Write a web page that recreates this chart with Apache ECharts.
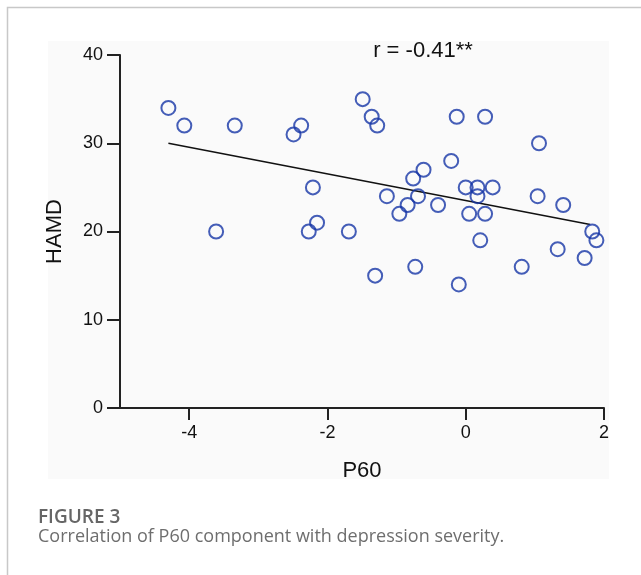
<!DOCTYPE html>
<html>
<head>
<meta charset="utf-8">
<script src="https://cdn.jsdelivr.net/npm/echarts@6/dist/echarts.min.js"></script>
<style>
html,body{margin:0;padding:0;background:#fff;}
#c{width:641px;height:575px;}
</style>
</head>
<body>
<div id="c"></div>
<script>
// P60 component (x) vs HAMD score (y)
const p60Values = [-4.30,-4.07,-3.34,-2.49,-2.38,-2.21,-3.61,-2.27,-2.15,-1.49,-1.36,-1.28,-0.13,0.28,1.06,-0.21,-0.61,-0.76,-1.14,-0.69,-0.84,-0.96,-0.40,0.00,0.17,0.17,0.39,0.05,0.28,1.04,1.41,1.83,1.89,0.21,1.33,1.72,-1.69,-1.31,-0.73,-0.10,0.81];
const hamdValues = [34,32,32,31,32,25,20,20,21,35,33,32,33,33,30,28,27,26,24,24,23,22,23,25,25,24,25,22,22,24,23,20,19,19,18,17,20,15,16,14,16];
const fitX = [-4.3, 1.8];
const fitY = [30.0, 20.8];
const xTicks = [-4, -2, 0, 2];
const yTicks = [0, 10, 20, 30, 40];
const corrLabel = 'r = -0.41**';
const figureLabel = 'FIGURE 3';
const captionText = 'Correlation of P60 component with depression severity.';

const points = p60Values.map((x, i) => [x, hamdValues[i]]);
const fitLine = fitX.map((x, i) => [x, fitY[i]]);

const chart = echarts.init(document.getElementById('c'), null, {renderer: 'canvas'});
const axisFont = 'Liberation Sans, Arial, sans-serif';
chart.setOption({
  animation: false,
  backgroundColor: '#ffffff',
  graphic: [
    {type: 'rect', z: -10, shape: {x: 7.5, y: 7.5, width: 700, height: 700},
     style: {fill: 'none', stroke: '#c8c8c8', lineWidth: 1.5}, silent: true},
    {type: 'rect', z: -9, shape: {x: 48, y: 41, width: 561, height: 438},
     style: {fill: '#fafafa'}, silent: true},
    {type: 'text', x: 423, y: 40, style: {text: corrLabel, fill: '#111', font: '22px ' + axisFont, textAlign: 'center', textVerticalAlign: 'top'}},
    {type: 'text', x: 38, y: 508, style: {text: figureLabel, fill: '#666', font: '600 19px "Open Sans", sans-serif', textVerticalAlign: 'top'}},
    {type: 'text', x: 38, y: 528, style: {text: captionText, fill: '#6e6e6e', font: '18px "Open Sans", sans-serif', textVerticalAlign: 'top'}}
  ],
  grid: {left: 120, right: 37, top: 55, bottom: 167, containLabel: false},
  xAxis: {
    type: 'value', min: -5, max: 2,
    name: 'P60', nameLocation: 'middle', nameGap: 52,
    nameTextStyle: {color: '#111', fontSize: 22, fontFamily: axisFont},
    axisLine: {show: true, onZero: false, lineStyle: {color: '#222', width: 2}},
    axisTick: {show: true, length: 12, customValues: xTicks, lineStyle: {color: '#222', width: 2}},
    axisLabel: {customValues: xTicks, color: '#111', fontSize: 18, fontFamily: axisFont, margin: 16},
    splitLine: {show: false}
  },
  yAxis: {
    type: 'value', min: 0, max: 40, interval: 10,
    name: 'HAMD', nameLocation: 'middle', nameGap: 54, nameRotate: 90,
    nameTextStyle: {color: '#111', fontSize: 22, fontFamily: axisFont},
    axisLine: {show: true, onZero: false, lineStyle: {color: '#222', width: 2}},
    axisTick: {show: true, length: 13, lineStyle: {color: '#222', width: 2}},
    axisLabel: {color: '#111', fontSize: 18, fontFamily: axisFont, margin: 17},
    splitLine: {show: false}
  },
  series: [
    {
      type: 'line', data: fitLine, symbol: 'none', z: 1,
      lineStyle: {color: '#111', width: 1.5}
    },
    {
      type: 'scatter', data: points, symbol: 'circle', symbolSize: 14, z: 2,
      itemStyle: {color: 'rgba(0,0,0,0)', borderColor: '#1636a6', borderWidth: 2}
    }
  ]
});
</script>
</body>
</html>
